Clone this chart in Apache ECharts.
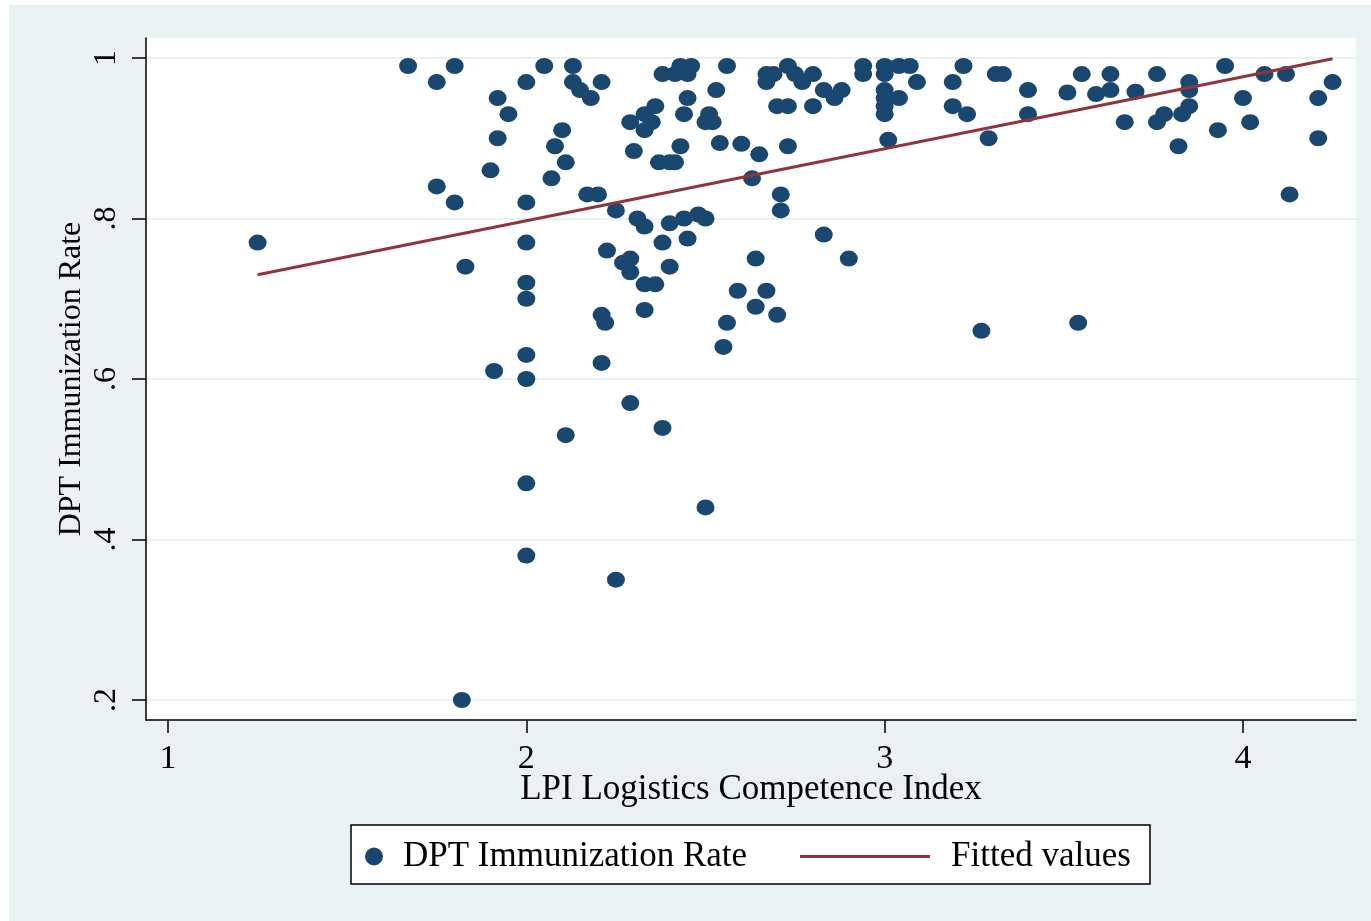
<!DOCTYPE html>
<html>
<head>
<meta charset="utf-8">
<title>DPT Immunization Rate vs LPI</title>
<script src="https://cdn.jsdelivr.net/npm/echarts@6/dist/echarts.min.js"></script>
<style>
  html, body { margin: 0; padding: 0; background: #fff; overflow: hidden; }
  #chart { position: absolute; left: 9px; top: 5px; width: 1362px; height: 916px; }
</style>
</head>
<body>
<div id="chart"></div>
<script>
// LPI logistics competence index (x) and DPT immunization rate (y), one entry per country
const lpi = [
  1.25, 1.67, 1.75, 1.75, 1.80, 1.80, 1.83, 1.82, 1.90, 1.91, 1.92, 1.92, 1.95,
  2.00, 2.00, 2.00, 2.00, 2.00, 2.00, 2.00, 2.00, 2.00,
  2.05, 2.07, 2.08, 2.10, 2.11, 2.11, 2.13, 2.13, 2.15, 2.18, 2.17, 2.20, 2.21,
  2.21, 2.22, 2.21, 2.225, 2.25, 2.25, 2.27, 2.29, 2.30, 2.29, 2.29, 2.29, 2.31,
  2.33, 2.33, 2.33, 2.33, 2.33, 2.35, 2.36, 2.36, 2.37, 2.38, 2.38, 2.38, 2.40,
  2.40, 2.40, 2.415, 2.415, 2.43, 2.43, 2.44, 2.44, 2.45, 2.45, 2.46, 2.45, 2.48,
  2.50, 2.50, 2.50, 2.51, 2.52, 2.53, 2.54, 2.55, 2.56, 2.56, 2.60, 2.59, 2.63,
  2.64, 2.64, 2.65, 2.67, 2.67, 2.67, 2.69, 2.70, 2.70, 2.71, 2.71, 2.73, 2.73,
  2.73, 2.75, 2.77, 2.80, 2.80, 2.83, 2.83, 2.86, 2.88, 2.90, 2.94, 2.94,
  3.00, 3.00, 3.00, 3.00, 3.00, 3.00, 3.01, 3.04, 3.04, 3.07, 3.09, 3.19, 3.19,
  3.22, 3.23, 3.29, 3.27, 3.31, 3.33, 3.40, 3.40, 3.51, 3.54, 3.55, 3.59, 3.63,
  3.63, 3.67, 3.70, 3.76, 3.76, 3.78, 3.82, 3.83, 3.85, 3.85, 3.85, 3.93, 3.95,
  4.00, 4.02, 4.06, 4.12, 4.13, 4.21, 4.21, 4.25
];
const dpt = [
  0.77, 0.99, 0.97, 0.84, 0.99, 0.82, 0.74, 0.20, 0.86, 0.61, 0.95, 0.90, 0.93,
  0.97, 0.82, 0.77, 0.72, 0.70, 0.63, 0.60, 0.47, 0.38,
  0.99, 0.85, 0.89, 0.91, 0.87, 0.53, 0.99, 0.97, 0.96, 0.95, 0.83, 0.83, 0.97,
  0.68, 0.67, 0.62, 0.76, 0.81, 0.35, 0.745, 0.92, 0.884, 0.75, 0.733, 0.57, 0.80,
  0.93, 0.91, 0.79, 0.718, 0.686, 0.92, 0.94, 0.718, 0.87, 0.98, 0.77, 0.539, 0.794,
  0.74, 0.87, 0.98, 0.87, 0.99, 0.89, 0.93, 0.80, 0.95, 0.98, 0.99, 0.775, 0.805,
  0.80, 0.44, 0.92, 0.93, 0.92, 0.96, 0.894, 0.64, 0.99, 0.67, 0.893, 0.71, 0.85,
  0.75, 0.69, 0.88, 0.98, 0.97, 0.71, 0.98, 0.94, 0.68, 0.83, 0.81, 0.99, 0.94,
  0.89, 0.98, 0.97, 0.98, 0.94, 0.78, 0.96, 0.95, 0.96, 0.75, 0.99, 0.98,
  0.99, 0.98, 0.96, 0.95, 0.94, 0.93, 0.898, 0.99, 0.95, 0.99, 0.97, 0.97, 0.94,
  0.99, 0.93, 0.90, 0.66, 0.98, 0.98, 0.96, 0.93, 0.957, 0.67, 0.98, 0.955, 0.98,
  0.96, 0.92, 0.958, 0.98, 0.92, 0.93, 0.89, 0.93, 0.97, 0.96, 0.94, 0.91, 0.99,
  0.95, 0.92, 0.98, 0.98, 0.83, 0.95, 0.90, 0.97
];

// linear fit, end points
const fitX = [1.25, 4.25];
const fitY = [0.73, 0.999];

const xTicks = [1, 2, 3, 4];
const yTicks = [0.2, 0.4, 0.6, 0.8, 1];

const serif = 'Liberation Serif';
const navy = '#1a476f';
const maroon = '#90353b';
const bg = '#e9f1f3';

const chart = echarts.init(document.getElementById('chart'));

chart.setOption({
  backgroundColor: bg,
  animation: false,
  textStyle: { fontFamily: serif, color: '#000' },
  grid: {
    left: 137, top: 33, width: 1210, height: 682,
    show: true, backgroundColor: '#fff', borderWidth: 0
  },
  xAxis: {
    type: 'value',
    min: 0.9386,
    max: 4.3154,
    name: 'LPI Logistics Competence Index',
    nameLocation: 'middle',
    nameGap: 52,
    nameMoveOverlap: false,
    nameTextStyle: { fontFamily: serif, fontSize: 35, color: '#000' },
    axisLine: { show: true, onZero: false, lineStyle: { color: '#000', width: 1.5 } },
    axisTick: { show: true, customValues: xTicks, length: 13, lineStyle: { color: '#000', width: 1.5 } },
    axisLabel: { customValues: xTicks, fontFamily: serif, fontSize: 34, color: '#000', margin: 22 },
    splitLine: { show: false }
  },
  yAxis: {
    type: 'value',
    min: 0.1751,
    max: 1.0249,
    name: 'DPT Immunization Rate',
    nameLocation: 'middle',
    nameRotate: 90,
    nameGap: 58,
    nameMoveOverlap: false,
    nameTextStyle: { fontFamily: serif, fontSize: 32, color: '#000' },
    axisLine: { show: true, onZero: false, lineStyle: { color: '#000', width: 1.5 } },
    axisTick: { show: true, customValues: yTicks, length: 14, lineStyle: { color: '#000', width: 1.5 } },
    axisLabel: {
      customValues: yTicks,
      rotate: 90,
      fontFamily: serif, fontSize: 32, color: '#000', margin: 23,
      formatter: v => (v >= 1 ? '1' : String(+v.toFixed(1)).replace(/^0/, ''))
    },
    splitLine: { show: true, lineStyle: { color: bg, width: 2 } }
  },
  legend: [
    {
      data: [{ name: 'DPT Immunization Rate', icon: 'circle' }],
      left: 356, top: 834, padding: 0,
      itemWidth: 18, itemHeight: 18,
      selectedMode: false,
      textStyle: { fontFamily: serif, fontSize: 35, color: '#000', lineHeight: 34, padding: [0, 0, 0, 15] }
    },
    {
      data: [{ name: 'Fitted values', icon: 'rect' }],
      left: 791, top: 834, padding: 0,
      itemWidth: 130, itemHeight: 3,
      selectedMode: false,
      textStyle: { fontFamily: serif, fontSize: 35, color: '#000', lineHeight: 34, padding: [0, 0, 0, 16] }
    }
  ],
  graphic: [
    {
      type: 'rect',
      z: 0,
      shape: { x: 342, y: 820, width: 799, height: 59 },
      style: { fill: '#fff', stroke: '#000', lineWidth: 1.5 }
    }
  ],
  series: [
    {
      name: 'DPT Immunization Rate',
      type: 'scatter',
      symbol: 'circle',
      symbolSize: [18, 16],
      itemStyle: { color: navy, opacity: 1 },
      z: 2,
      data: lpi.map((x, i) => [x, dpt[i]])
    },
    {
      name: 'Fitted values',
      type: 'line',
      symbol: 'none',
      lineStyle: { color: maroon, width: 3 },
      itemStyle: { color: maroon },
      z: 3,
      data: fitX.map((x, i) => [x, fitY[i]])
    }
  ]
});
</script>
</body>
</html>
